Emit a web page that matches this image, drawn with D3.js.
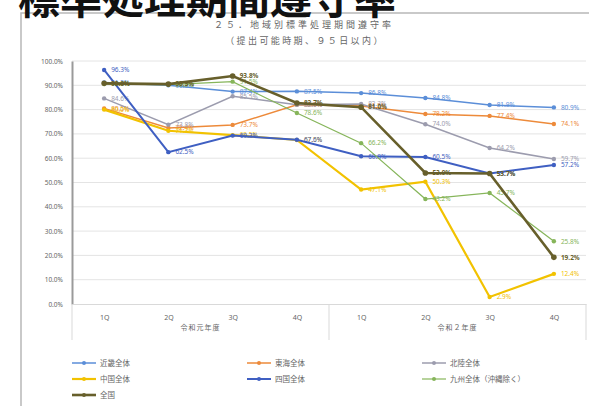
<!DOCTYPE html>
<html>
<head>
<meta charset="utf-8">
<script src="https://cdn.jsdelivr.net/npm/d3@7"></script>
<style>
  html, body { margin: 0; padding: 0; background: #fff; overflow: hidden; }
  svg { display: block; font-family: "Noto Sans CJK JP", "Noto Sans", sans-serif; }
</style>
</head>
<body>
<div id="chart"></div>
<script>
// ---- data ----
const periods     = ['R1-1Q', 'R1-2Q', 'R1-3Q', 'R1-4Q', 'R2-1Q', 'R2-2Q', 'R2-3Q', 'R2-4Q'];
const tickLabels  = ['1Q', '2Q', '3Q', '4Q', '1Q', '2Q', '3Q', '4Q'];
const fiscalYears = ['令和元年度', '令和２年度'];
const yTicks      = [0, 10, 20, 30, 40, 50, 60, 70, 80, 90, 100];

const seriesNames = ['近畿全体', '東海全体', '北陸全体', '中国全体', '四国全体', '九州全体（沖縄除く）', '全国'];
const kinki   = [91.2, 90.0, 87.4, 87.5, 86.8, 84.8, 81.9, 80.9];
const tokai   = [80.5, 72.4, 73.7, 82.0, 81.5, 78.2, 77.4, 74.1];
const hokuriku= [84.6, 73.8, 85.5, 82.0, 82.3, 74.0, 64.2, 59.7];
const chugoku = [80.0, 71.3, 69.5, 67.5, 47.1, 50.3, 2.9, 12.4];
const shikoku = [96.3, 62.5, 69.3, 67.6, 60.8, 60.5, 53.7, 57.2];
const kyushu  = [90.5, 90.3, 91.5, 78.6, 66.2, 43.2, 45.7, 25.8];
const zenkoku = [90.8, 90.5, 93.8, 82.7, 81.0, 53.9, 53.7, 19.2];
const seriesValues = [kinki, tokai, hokuriku, chugoku, shikoku, kyushu, zenkoku];

const seriesColors = ['#5b8ed8', '#ed8a3a', '#9c9cae', '#f2c200', '#3f5fc2', '#86b55a', '#675f2b'];
const seriesWidths = [1.5, 1.5, 1.5, 2.2, 2, 1.2, 2.6];

// ---- layout ----
const width = 589, height = 406;
const plot = { left: 72, right: 586, top: 61, bottom: 304 };

const svg = d3.select('#chart').append('svg')
    .attr('width', width).attr('height', height);

// chart frame
svg.append('rect')
    .attr('x', 21).attr('y', 13).attr('width', 600).attr('height', 420)
    .attr('fill', '#fff').attr('stroke', '#b8b8b8').attr('stroke-width', 1.5);

// page heading, cut off at the top edge
svg.append('text')
    .attr('x', 18).attr('y', 14)
    .style('font-size', '42px').style('font-weight', '700').style('fill', '#111')
    .text('標準処理期間遵守率');

// titles
svg.append('text')
    .attr('x', 304).attr('y', 28).attr('text-anchor', 'middle')
    .style('font-size', '9px').style('letter-spacing', '3px').style('fill', '#666')
    .text('２５．地域別標準処理期間遵守率');
svg.append('text')
    .attr('x', 305).attr('y', 44).attr('text-anchor', 'middle')
    .style('font-size', '9px').style('letter-spacing', '2.4px').style('fill', '#666')
    .text('（提出可能時期、９５日以内）');

// ---- scales ----
const x = d3.scalePoint().domain(periods).range([plot.left, plot.right]).padding(0.5);
const y = d3.scaleLinear().domain([0, 100]).range([plot.bottom, plot.top]);

// grid
svg.append('g').selectAll('line')
    .data(yTicks.filter(d => d > 0))
    .join('line')
    .attr('x1', plot.left).attr('x2', plot.right)
    .attr('y1', d => y(d)).attr('y2', d => y(d))
    .attr('stroke', '#e4e4e4').attr('stroke-width', 1);

// y axis
const yAxis = svg.append('g')
    .attr('transform', 'translate(' + plot.left + ',0)')
    .call(d3.axisLeft(y).tickValues(yTicks).tickSize(0).tickPadding(9)
        .tickFormat(d => d.toFixed(1) + '%'));
yAxis.select('.domain').attr('stroke', '#9a9a9a').attr('stroke-width', 2);
yAxis.selectAll('text')
    .style('font-size', '6.5px').style('fill', '#666')
    .style('font-family', '"Noto Sans", sans-serif');

// x axis labels
const xAxis = svg.append('g')
    .attr('transform', 'translate(0,' + plot.bottom + ')')
    .call(d3.axisBottom(x).tickSize(0).tickPadding(11).tickFormat((d, i) => tickLabels[i]));
xAxis.select('.domain').attr('stroke', '#d9d9d9');
xAxis.selectAll('text')
    .style('font-size', '7px').style('fill', '#666')
    .style('font-family', '"Noto Sans", sans-serif');

// group dividers and fiscal year labels
const step = x.step();
const dividers = [0, 4, 8].map(i => plot.left + i * step);
svg.append('g').selectAll('line')
    .data(dividers)
    .join('line')
    .attr('x1', d => d).attr('x2', d => d)
    .attr('y1', plot.bottom).attr('y2', plot.bottom + 36)
    .attr('stroke', '#d9d9d9').attr('stroke-width', 1);

svg.append('g').selectAll('text')
    .data(fiscalYears)
    .join('text')
    .attr('x', (d, i) => plot.left + (i * 4 + 2) * step)
    .attr('y', plot.bottom + 26)
    .attr('text-anchor', 'middle')
    .style('font-size', '7px').style('letter-spacing', '1px').style('fill', '#666')
    .text(d => d);

// ---- series ----
const line = d3.line().x((d, i) => x(periods[i])).y(d => y(d));

seriesValues.forEach(function (vals, s) {
    const g = svg.append('g');
    g.append('path')
        .datum(vals)
        .attr('d', line)
        .attr('fill', 'none')
        .attr('stroke', seriesColors[s])
        .attr('stroke-width', seriesWidths[s]);
    g.selectAll('circle')
        .data(vals)
        .join('circle')
        .attr('cx', (d, i) => x(periods[i]))
        .attr('cy', d => y(d))
        .attr('r', s === 6 ? 2.8 : 2.2)
        .attr('fill', seriesColors[s]);
    g.selectAll('text')
        .data(vals)
        .join('text')
        .attr('x', (d, i) => x(periods[i]) + 7)
        .attr('y', d => y(d))
        .attr('dy', '0.35em')
        .style('font-size', '6.5px')
        .style('font-family', '"Noto Sans", sans-serif')
        .style('fill', seriesColors[s])
        .style('font-weight', s === 6 ? '700' : '400')
        .text(d => d.toFixed(1) + '%');
});

// ---- legend ----
const legendCols = [72, 247, 422];
const legendRows = [363, 379, 395];
const legend = svg.append('g').selectAll('g')
    .data(seriesNames)
    .join('g')
    .attr('transform', (d, i) => 'translate(' + legendCols[i % 3] + ',' + legendRows[Math.floor(i / 3)] + ')');
legend.append('line')
    .attr('x1', 0).attr('x2', 24)
    .attr('stroke', (d, i) => seriesColors[i])
    .attr('stroke-width', (d, i) => seriesWidths[i]);
legend.append('circle')
    .attr('cx', 12).attr('r', 2)
    .attr('fill', (d, i) => seriesColors[i]);
legend.append('text')
    .attr('x', 28).attr('dy', '0.35em')
    .style('font-size', '7.5px').style('fill', '#666')
    .text(d => d);
</script>
</body>
</html>
